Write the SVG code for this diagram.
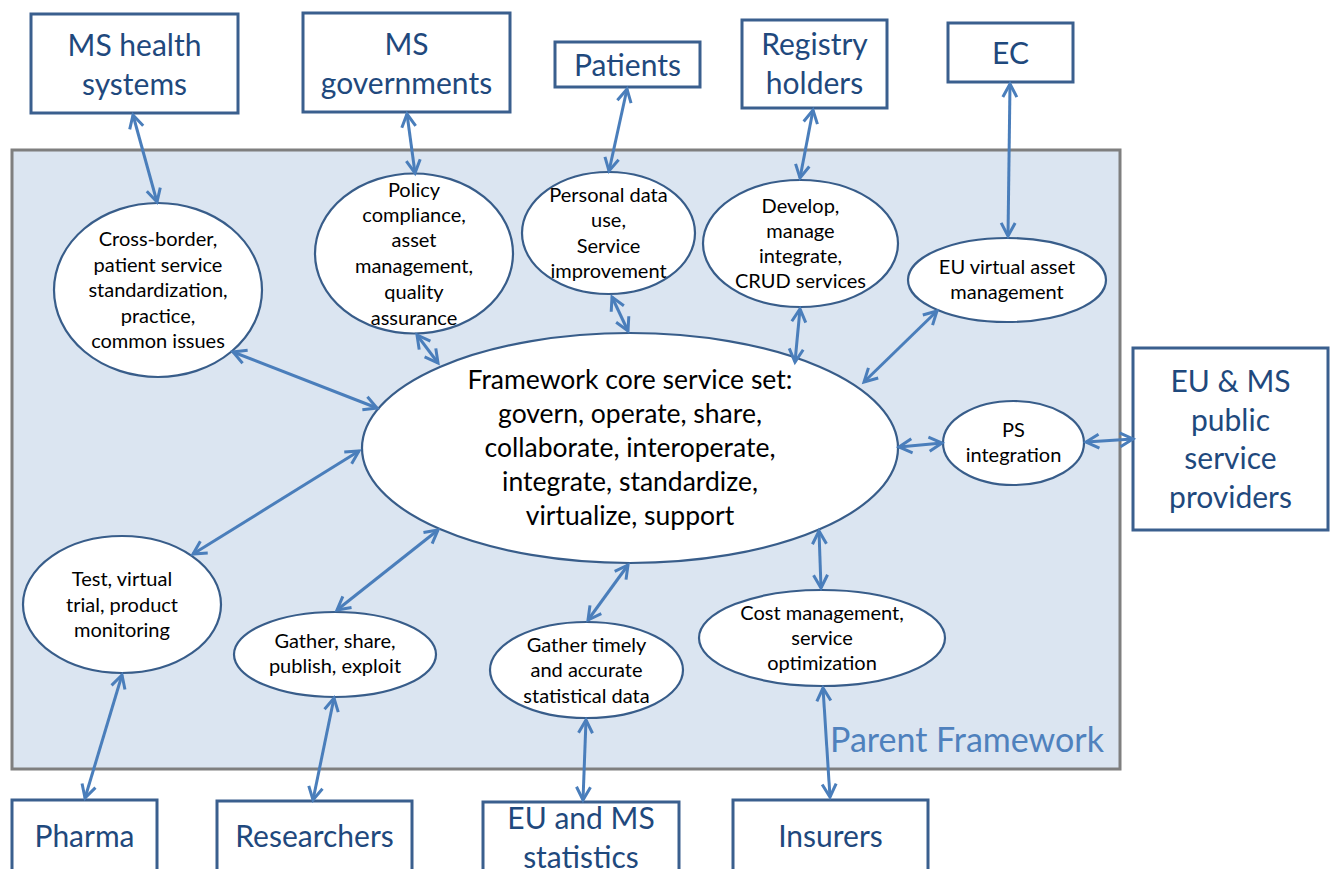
<svg xmlns="http://www.w3.org/2000/svg" width="1333" height="869" viewBox="0 0 1333 869">
<style>
.box{fill:#fff;stroke:#3a5f8e;stroke-width:3}
.bt{font-family:Lato,"Open Sans",sans-serif;font-size:30px;fill:#1f497d;text-anchor:middle}
.ell{fill:#fff;stroke:#385d8a;stroke-width:2.2}
.et{font-family:Lato,"Open Sans",sans-serif;font-size:20px;fill:#000;text-anchor:middle}
.mt{font-family:Lato,"Open Sans",sans-serif;font-size:26.5px;fill:#000;text-anchor:middle}
.con line{stroke:#4a7ebb;stroke-width:3;fill:none;marker-start:url(#ah);marker-end:url(#ah)}
</style>
<defs>
<marker id="ah" markerUnits="userSpaceOnUse" viewBox="-16 -10 20 20" markerWidth="20" markerHeight="20" refX="0" refY="0" orient="auto-start-reverse" overflow="visible">
<path d="M-13,-7 L0,0 L-13,7" fill="none" stroke="#4a7ebb" stroke-width="3" stroke-linejoin="miter"/>
</marker>
</defs>
<rect width="1333" height="869" fill="#fff"/>
<g id="parent-framework">
<rect x="12" y="150" width="1108" height="619" fill="#dbe5f1" stroke="#7f7f7f" stroke-width="3"/>
<text x="1104" y="752" font-family="Lato,'Open Sans',sans-serif" font-size="34" fill="#4f81bd" text-anchor="end">Parent Framework</text>
</g>
<g id="ms-health-systems"><rect class="box" x="31" y="14" width="207" height="99"/><text class="bt" x="134.5" y="56">MS health</text><text class="bt" x="134.5" y="95">systems</text></g>
<g id="ms-governments"><rect class="box" x="303" y="13" width="207" height="99"/><text class="bt" x="406.5" y="55">MS</text><text class="bt" x="406.5" y="94">governments</text></g>
<g id="patients"><rect class="box" x="555" y="42" width="145" height="45"/><text class="bt" x="627.5" y="76">Patients</text></g>
<g id="registry-holders"><rect class="box" x="742" y="20" width="145" height="88"/><text class="bt" x="814.5" y="55">Registry</text><text class="bt" x="814.5" y="94">holders</text></g>
<g id="ec"><rect class="box" x="948" y="23" width="125" height="59"/><text class="bt" x="1010.5" y="64">EC</text></g>
<g id="eu-ms-public-service-providers"><rect class="box" x="1133" y="348" width="195" height="182"/><text class="bt" x="1230.5" y="392">EU &amp; MS</text><text class="bt" x="1230.5" y="431">public</text><text class="bt" x="1230.5" y="469">service</text><text class="bt" x="1230.5" y="508">providers</text></g>
<g id="pharma"><rect class="box" x="12" y="800" width="145" height="90"/><text class="bt" x="84.5" y="847">Pharma</text></g>
<g id="researchers"><rect class="box" x="217" y="801" width="195" height="90"/><text class="bt" x="314.5" y="847">Researchers</text></g>
<g id="eu-ms-statistics"><rect class="box" x="483" y="802" width="196" height="90"/><text class="bt" x="581" y="829">EU and MS</text><text class="bt" x="581" y="868">statistics</text></g>
<g id="insurers"><rect class="box" x="733" y="800" width="195" height="90"/><text class="bt" x="830.5" y="847">Insurers</text></g>

<g id="core-service-set"><ellipse class="ell" cx="630" cy="448" rx="268" ry="115"/>
<text class="mt" x="630" y="389">Framework core service set:</text>
<text class="mt" x="630" y="423">govern, operate, share,</text>
<text class="mt" x="630" y="457">collaborate, interoperate,</text>
<text class="mt" x="630" y="491">integrate, standardize,</text>
<text class="mt" x="630" y="525">virtualize, support</text></g>
<g id="cross-border"><ellipse class="ell" cx="158" cy="290" rx="104" ry="87"/>
<text class="et" x="158" y="246">Cross-border,</text><text class="et" x="158" y="272">patient service</text><text class="et" x="158" y="297">standardization,</text><text class="et" x="158" y="323">practice,</text><text class="et" x="158" y="348">common issues</text></g>
<g id="policy-compliance"><ellipse class="ell" cx="414" cy="253.5" rx="99" ry="80"/>
<text class="et" x="414" y="197">Policy</text><text class="et" x="414" y="222">compliance,</text><text class="et" x="414" y="247">asset</text><text class="et" x="414" y="273">management,</text><text class="et" x="414" y="299">quality</text><text class="et" x="414" y="325">assurance</text></g>
<g id="personal-data"><ellipse class="ell" cx="608.5" cy="233" rx="86.5" ry="61"/>
<text class="et" x="608.5" y="202">Personal data</text><text class="et" x="608.5" y="227">use,</text><text class="et" x="608.5" y="253">Service</text><text class="et" x="608.5" y="278">improvement</text></g>
<g id="develop-manage"><ellipse class="ell" cx="800.5" cy="243.5" rx="97.5" ry="63.5"/>
<text class="et" x="800.5" y="213">Develop,</text><text class="et" x="800.5" y="238">manage</text><text class="et" x="800.5" y="263">integrate,</text><text class="et" x="800.5" y="288">CRUD services</text></g>
<g id="eu-virtual-asset"><ellipse class="ell" cx="1007" cy="280" rx="99" ry="42"/>
<text class="et" x="1007" y="274">EU virtual asset</text><text class="et" x="1007" y="299">management</text></g>
<g id="ps-integration"><ellipse class="ell" cx="1013.5" cy="443" rx="70.5" ry="42"/>
<text class="et" x="1013.5" y="437">PS</text><text class="et" x="1013.5" y="462">integration</text></g>
<g id="test-virtual-trial"><ellipse class="ell" cx="122" cy="604.5" rx="99" ry="68.5"/>
<text class="et" x="122" y="586">Test, virtual</text><text class="et" x="122" y="612">trial, product</text><text class="et" x="122" y="637">monitoring</text></g>
<g id="gather-share"><ellipse class="ell" cx="335" cy="654.5" rx="101" ry="42.5"/>
<text class="et" x="335" y="648">Gather, share,</text><text class="et" x="335" y="673">publish, exploit</text></g>
<g id="gather-statistics"><ellipse class="ell" cx="586.5" cy="670" rx="96.5" ry="48"/>
<text class="et" x="586.5" y="652">Gather timely</text><text class="et" x="586.5" y="677">and accurate</text><text class="et" x="586.5" y="703">statistical data</text></g>
<g id="cost-management"><ellipse class="ell" cx="822" cy="638" rx="123" ry="48"/>
<text class="et" x="822" y="620">Cost management,</text><text class="et" x="822" y="645">service</text><text class="et" x="822" y="670">optimization</text></g>

<g id="connectors" class="con">
<line x1="133" y1="115" x2="157" y2="202"/>
<line x1="407" y1="114" x2="415" y2="173"/>
<line x1="627" y1="89" x2="609" y2="171"/>
<line x1="813" y1="110" x2="800" y2="178"/>
<line x1="1010" y1="84" x2="1008" y2="236"/>
<line x1="233" y1="352" x2="377" y2="408"/>
<line x1="417" y1="335" x2="438" y2="363"/>
<line x1="612" y1="297" x2="628" y2="331"/>
<line x1="800" y1="309" x2="795" y2="362"/>
<line x1="937" y1="311" x2="864" y2="382"/>
<line x1="899" y1="447" x2="942" y2="443"/>
<line x1="1086" y1="442" x2="1133" y2="439"/>
<line x1="359" y1="451" x2="193" y2="554"/>
<line x1="438" y1="530" x2="337" y2="610"/>
<line x1="628" y1="565" x2="588" y2="620"/>
<line x1="819" y1="531" x2="821" y2="588"/>
<line x1="122" y1="675" x2="85" y2="798"/>
<line x1="334" y1="698" x2="313" y2="800"/>
<line x1="586" y1="720" x2="583" y2="800"/>
<line x1="823" y1="688" x2="830" y2="797"/>
</g>
</svg>
